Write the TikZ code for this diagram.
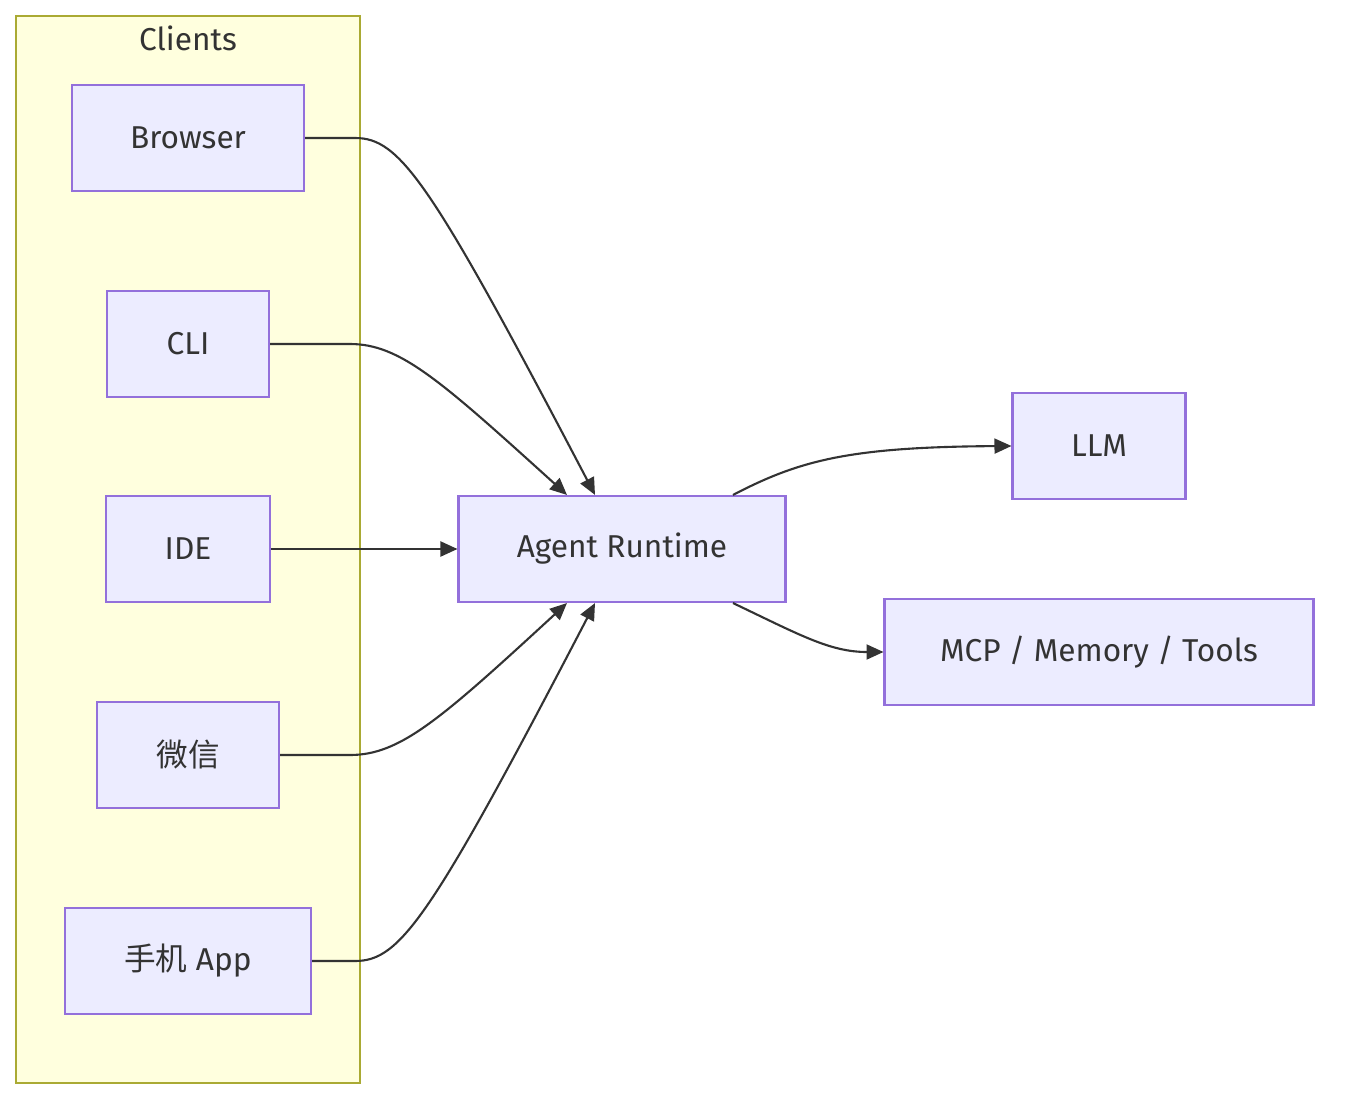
\documentclass[tikz,border=0pt]{standalone}
\usepackage{fontspec}
\setmainfont{Fira Sans}
\newfontfamily\cjk{Noto Sans CJK SC}
\usetikzlibrary{arrows.meta}
\definecolor{txtgray}{HTML}{333333}
\definecolor{boxfill}{HTML}{ECECFF}
\definecolor{boxline}{HTML}{9370DB}
\definecolor{grpfill}{HTML}{FFFFDE}
\definecolor{grpline}{HTML}{AAAA33}
\tikzset{
  client/.style={draw=boxline, fill=boxfill, line width=1.2pt, text=txtgray,
    minimum height=2.12cm, inner sep=0pt, font=\fontsize{18}{21}\selectfont},
  link/.style={draw=txtgray, line width=1.2pt,
    -{Triangle[length=0.34cm,width=0.3cm]}}
}
\begin{document}
\begin{tikzpicture}[x=0.02cm,y=-0.02cm]
\useasboundingbox (0,0) rectangle (1346,1112);
% Clients group
\draw[fill=grpfill, draw=grpline, line width=1.2pt] (16,16) rectangle (360,1083);
\node[text=txtgray, font=\fontsize{18}{21}\selectfont] (title) at (188,38) {Clients};
% nodes
\node[client, minimum width=4.64cm] (browser) at (188,138) {Browser};
\node[client, minimum width=3.24cm] (cli) at (188,344) {CLI};
\node[client, minimum width=3.28cm] (ide) at (188,549) {IDE};
\node[client, minimum width=3.64cm] (wechat) at (188,755) {\cjk 微信};
\node[client, minimum width=4.92cm] (app) at (188,961) {{\cjk 手机} App};
\node[client, minimum width=6.54cm] (agent) at (622,549) {Agent Runtime};
\node[client, minimum width=3.46cm] (llm) at (1099,446) {LLM};
\node[client, minimum width=8.58cm] (mcp) at (1099,652) {MCP / Memory / Tools};
% edges
\draw[link] (browser.east) -- (355,138) .. controls (400,138) and (430,180) .. ([xshift=-0.54cm]agent.north);
\draw[link] (cli.east) -- (350,344) .. controls (400,344) and (440,380) .. ([xshift=-1.1cm]agent.north);
\draw[link] (ide.east) -- (agent.west);
\draw[link] (wechat.east) -- (350,755) .. controls (400,755) and (440,720) .. ([xshift=-1.1cm]agent.south);
\draw[link] (app.east) -- (355,961) .. controls (400,961) and (430,920) .. ([xshift=-0.54cm]agent.south);
\draw[link] ([xshift=2.22cm]agent.north) .. controls (800,460) and (850,447) .. (llm.west);
\draw[link] ([xshift=2.22cm]agent.south) .. controls (800,635) and (830,652) .. (mcp.west);
\end{tikzpicture}
\end{document}
